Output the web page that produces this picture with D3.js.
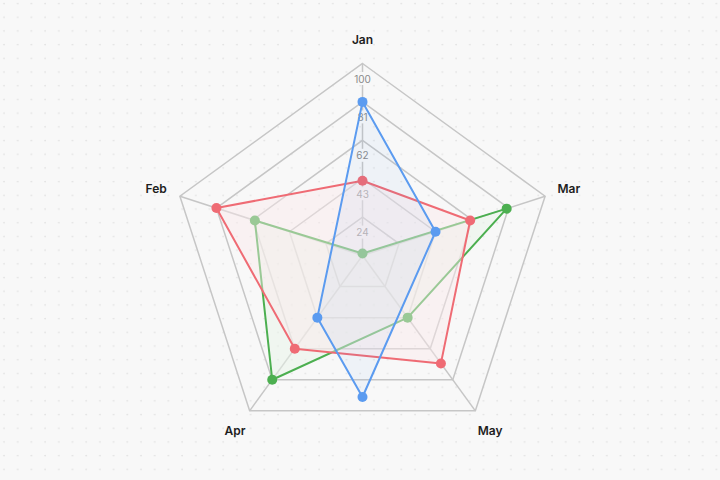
<!DOCTYPE html>
<html>
<head>
<meta charset="utf-8">
<script src="https://cdn.jsdelivr.net/npm/d3@7"></script>
<style>
  html, body { margin: 0; padding: 0; background: #f8f8f8; }
  svg { display: block; }
</style>
</head>
<body>
<svg width="720" height="480"></svg>
<script>
// axes clockwise from the top
const categories = ["Jan", "Mar", "May", "Apr", "Feb"];
const tickValues = [24, 43, 62, 81, 100];
const scaleMin = 5;
const scaleMax = 100;

const greenValues = [6, 80, 43, 81, 61];
const redValues = [42, 61, 71, 62, 81];
// blue series only has four points, the third sits between May and Apr
const blueIndex = [0, 1, 2.5, 3];
const blueValues = [81, 43, 75, 43];

const svg = d3.select("svg");
const width = 720;
const height = 480;
const cx = 362.5;
const cy = 255.5;
const R = 192;

// dotted background
const defs = svg.append("defs");
defs
  .append("pattern")
  .attr("id", "dots")
  .attr("width", 13.7)
  .attr("height", 13.7)
  .attr("patternUnits", "userSpaceOnUse")
  .append("circle")
  .attr("cx", 4)
  .attr("cy", 3.5)
  .attr("r", 0.9)
  .attr("fill", "#e2e2e2");

svg.append("rect").attr("width", width).attr("height", height).attr("fill", "#f8f8f8");
svg.append("rect").attr("width", width).attr("height", height).attr("fill", "url(#dots)");

const n = categories.length;
const angle = d3.scaleLinear().domain([0, n]).range([0, 2 * Math.PI]);
const r = d3.scaleLinear().domain([scaleMin, scaleMax]).range([0, R]);

const px = (i, v) => cx + r(v) * Math.sin(angle(i));
const py = (i, v) => cy - r(v) * Math.cos(angle(i));

const g = svg.append("g");

// grid rings
const line = d3.line().curve(d3.curveLinearClosed);
g.selectAll("path.ring")
  .data(tickValues)
  .join("path")
  .attr("class", "ring")
  .attr("d", (t) => line(categories.map((c, i) => [px(i, t), py(i, t)])))
  .attr("fill", "none")
  .attr("stroke", "#c6c6c6")
  .attr("stroke-width", 1.5);

// spokes
g.selectAll("line.spoke")
  .data(categories)
  .join("line")
  .attr("class", "spoke")
  .attr("x1", cx)
  .attr("y1", cy)
  .attr("x2", (c, i) => px(i, scaleMax))
  .attr("y2", (c, i) => py(i, scaleMax))
  .attr("stroke", "#c6c6c6")
  .attr("stroke-width", 1.5);

// tick labels with backdrop
const tickG = g.selectAll("g.tick").data(tickValues).join("g").attr("class", "tick")
  .attr("transform", (t) => `translate(${cx},${cy - r(t) + 15.5})`);
tickG.append("rect")
  .attr("x", (t) => (t >= 100 ? -11 : -8))
  .attr("y", -7)
  .attr("width", (t) => (t >= 100 ? 22 : 16))
  .attr("height", 13)
  .attr("fill", "#f8f8f8");
tickG.append("text")
  .text((t) => t)
  .attr("text-anchor", "middle")
  .attr("dy", "0.35em")
  .attr("font-family", "Inter, 'Noto Sans', sans-serif")
  .attr("font-size", 10)
  .attr("fill", "#8a8a8a");

// category labels
const labelR = scaleMin + (217 / R) * (scaleMax - scaleMin);
g.selectAll("text.cat")
  .data(categories)
  .join("text")
  .attr("class", "cat")
  .text((c) => c)
  .attr("x", (c, i) => px(i, labelR))
  .attr("y", (c, i) => py(i, labelR) + (i === 0 ? 1.5 : 0))
  .attr("text-anchor", "middle")
  .attr("dy", "0.35em")
  .attr("font-family", "Inter, 'Noto Sans', sans-serif")
  .attr("font-size", 12)
  .attr("font-weight", 600)
  .attr("fill", "#1e1e1e");

// series drawn green, red, blue (later fills veil earlier ones)
const series = [
  { idx: categories.map((c, i) => i), values: greenValues, color: "#4caf50", fill: "rgba(232,244,232,0.5)" },
  { idx: categories.map((c, i) => i), values: redValues, color: "#ef6b74", fill: "rgba(250,232,234,0.45)" },
  { idx: blueIndex, values: blueValues, color: "#5b9bf0", fill: "rgba(91,155,240,0.06)" },
];

series.forEach((s) => {
  const pts = s.values.map((v, k) => [px(s.idx[k], v), py(s.idx[k], v)]);
  const sg = g.append("g");
  sg.append("path")
    .attr("d", line(pts))
    .attr("fill", s.fill)
    .attr("stroke", s.color)
    .attr("stroke-width", 2)
    .attr("stroke-linejoin", "round");
  sg.selectAll("circle")
    .data(pts)
    .join("circle")
    .attr("cx", (d) => d[0])
    .attr("cy", (d) => d[1])
    .attr("r", 5)
    .attr("fill", s.color);
});
</script>
</body>
</html>
